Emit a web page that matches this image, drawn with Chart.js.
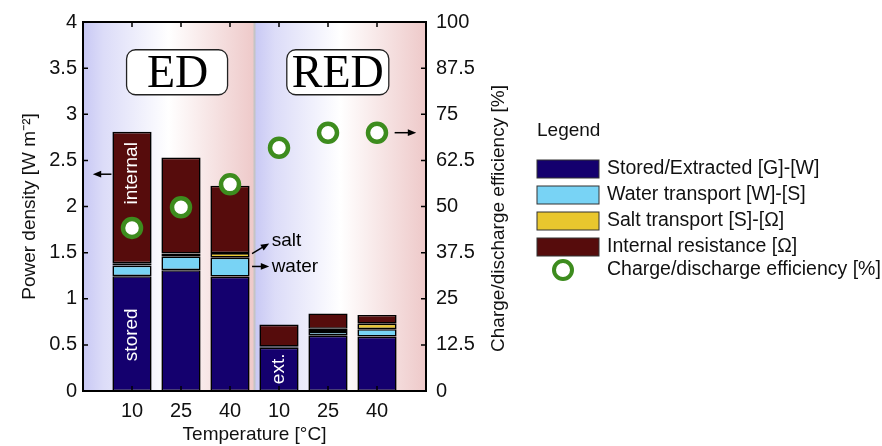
<!DOCTYPE html>
<html>
<head>
<meta charset="utf-8">
<script src="https://cdn.jsdelivr.net/npm/chart.js@4.4.1/dist/chart.umd.min.js"></script>
<style>
  html, body { margin: 0; padding: 0; background: #fff; }
  #wrap { width: 882px; height: 446px; }
</style>
</head>
<body>
<div id="wrap"><canvas id="chart" width="882" height="446"></canvas></div>
<script>
// Values (power density in W m-2, efficiency in %)
const temperatures = ["10", "25", "40", "10", "25", "40"];
const stored = [1.245, 1.31, 1.24, 0.47, 0.60, 0.59];
const water = [0.115, 0.15, 0.205, 0.006, 0.04, 0.08];
const salt = [0.024, 0.03, 0.05, 0.004, 0.035, 0.06];
const internal = [1.426, 1.04, 0.73, 0.24, 0.165, 0.095];
const efficiency = [44.2, 49.8, 56, 65.9, 70, 70];
const leftTicks = [0, 0.5, 1, 1.5, 2, 2.5, 3, 3.5, 4];
const rightTicks = [0, 12.5, 25, 37.5, 50, 62.5, 75, 87.5, 100];

const FONT = "'Liberation Sans', Arial, sans-serif";
const SERIF = "'Liberation Serif', 'Times New Roman', serif";
const TEXT = "#111";

const COLORS = {
    stored: "#14006e",
    water: "#78d3f5",
    salt: "#e9c72e",
    internal: "#560c0c",
    eff: "#3d8c1e",
};

// one empty slot on each side of the six bars
const labels = ["", ...temperatures, ""];
const pad = (arr) => [null, ...arr, null];

function barSet(label, data, color) {
    return {
        type: "bar",
        label,
        data: pad(data),
        backgroundColor: color,
        borderColor: "#000",
        borderWidth: 1.6,
        borderSkipped: false,
        stack: "power",
        yAxisID: "y",
        categoryPercentage: 1,
        barPercentage: 0.8,
        order: 2,
    };
}

function text(ctx, str, x, y, font, color, align, base) {
    ctx.font = font;
    ctx.fillStyle = color || TEXT;
    ctx.textAlign = align || "left";
    ctx.textBaseline = base || "middle";
    ctx.fillText(str, x, y);
}

function arrow(ctx, x1, y1, x2, y2) {
    const a = Math.atan2(y2 - y1, x2 - x1);
    ctx.save();
    ctx.strokeStyle = "#000";
    ctx.fillStyle = "#000";
    ctx.lineWidth = 1.5;
    ctx.beginPath();
    ctx.moveTo(x1, y1);
    ctx.lineTo(x2 - 5 * Math.cos(a), y2 - 5 * Math.sin(a));
    ctx.stroke();
    ctx.beginPath();
    ctx.moveTo(x2, y2);
    ctx.lineTo(x2 - 9 * Math.cos(a - 0.38), y2 - 9 * Math.sin(a - 0.38));
    ctx.lineTo(x2 - 9 * Math.cos(a + 0.38), y2 - 9 * Math.sin(a + 0.38));
    ctx.closePath();
    ctx.fill();
    ctx.restore();
}

function roundBox(ctx, x, y, w, h, r) {
    ctx.beginPath();
    ctx.roundRect(x, y, w, h, r);
    ctx.fillStyle = "#fff";
    ctx.fill();
    ctx.strokeStyle = "#222";
    ctx.lineWidth = 1.3;
    ctx.stroke();
}

const decorPlugin = {
    id: "decor",
    beforeDatasetsDraw(chart) {
        const { ctx, chartArea: a, scales } = chart;
        const mid = scales.x.getPixelForValue(3.5);
        ctx.save();
        [[a.left, mid], [mid, a.right]].forEach(([l, r]) => {
            const g = ctx.createLinearGradient(l, 0, r, 0);
            g.addColorStop(0, "#c8c8f4");
            g.addColorStop(0.12, "#dcdcf8");
            g.addColorStop(0.5, "#ffffff");
            g.addColorStop(1, "#eec9c9");
            ctx.fillStyle = g;
            ctx.fillRect(l, a.top, r - l, a.bottom - a.top);
        });
        ctx.strokeStyle = "#c4c4c4";
        ctx.lineWidth = 2;
        ctx.beginPath();
        ctx.moveTo(mid, a.top);
        ctx.lineTo(mid, a.bottom);
        ctx.stroke();

        // ED / RED labels
        const y = scales.y.getPixelForValue(3.45);
        const edX = scales.x.getPixelForValue(1.93);
        const redX = scales.x.getPixelForValue(5.2);
        roundBox(ctx, edX - 51, y - 23, 101, 45, 9);
        roundBox(ctx, redX - 51, y - 23, 102, 45, 9);
        text(ctx, "ED", edX, y + 2, "46px " + SERIF, "#000", "center");
        text(ctx, "RED", redX, y + 2, "46px " + SERIF, "#000", "center");
        ctx.restore();
    },
    afterDatasetsDraw(chart) {
        const { ctx, chartArea: a, scales } = chart;
        const x = scales.x, y = scales.y, y2 = scales.y2;
        ctx.save();

        // white rotated labels inside bars
        const vtext = (str, cx, cy) => {
            ctx.save();
            ctx.translate(cx, cy);
            ctx.rotate(-Math.PI / 2);
            text(ctx, str, 0, 0, "19px " + FONT, "#fff", "center");
            ctx.restore();
        };
        vtext("internal", x.getPixelForValue(1), y.getPixelForValue(2.36));
        vtext("stored", x.getPixelForValue(1), y.getPixelForValue(0.61));
        vtext("ext.", x.getPixelForValue(4), y.getPixelForValue(0.24));

        // axis arrows and callouts
        const ay = y.getPixelForValue(2.35);
        arrow(ctx, x.getPixelForValue(0.58), ay, x.getPixelForValue(0.2), ay);
        const by = y2.getPixelForValue(70);
        arrow(ctx, x.getPixelForValue(6.36), by, x.getPixelForValue(6.8), by);
        const sx = x.getPixelForValue(3.45);
        arrow(ctx, sx, y.getPixelForValue(1.49), x.getPixelForValue(3.8), y.getPixelForValue(1.6));
        arrow(ctx, sx, y.getPixelForValue(1.35), x.getPixelForValue(3.8), y.getPixelForValue(1.35));
        text(ctx, "salt", x.getPixelForValue(3.85), y.getPixelForValue(1.63), "19px " + FONT, "#000");
        text(ctx, "water", x.getPixelForValue(3.85), y.getPixelForValue(1.35), "19px " + FONT, "#000");

        // frame and inward ticks
        ctx.strokeStyle = "#000";
        ctx.lineWidth = 2;
        ctx.strokeRect(a.left, a.top, a.right - a.left, a.bottom - a.top);
        ctx.lineWidth = 1.5;
        ctx.beginPath();
        leftTicks.forEach((v) => {
            const p = y.getPixelForValue(v);
            ctx.moveTo(a.left, p); ctx.lineTo(a.left + 5, p);
        });
        rightTicks.forEach((v) => {
            const p = y2.getPixelForValue(v);
            ctx.moveTo(a.right, p); ctx.lineTo(a.right - 5, p);
        });
        temperatures.forEach((t, i) => {
            const p = x.getPixelForValue(i + 1);
            ctx.moveTo(p, a.top); ctx.lineTo(p, a.top + 5);
            ctx.moveTo(p, a.bottom); ctx.lineTo(p, a.bottom - 5);
        });
        ctx.stroke();

        // right axis title (reads bottom to top)
        ctx.save();
        ctx.translate(a.right + 73, (a.top + a.bottom) / 2 + 12);
        ctx.rotate(-Math.PI / 2);
        text(ctx, "Charge/discharge efficiency [%]", 0, 0, "19px " + FONT, TEXT, "center");
        ctx.restore();

        // legend
        const lx = 537, ly = 131;
        text(ctx, "Legend", lx, ly, "19px " + FONT, TEXT);
        chart.data.datasets.forEach((ds, i) => {
            const cy = ly + 38 + i * 26;
            if (ds.type === "bar") {
                ctx.fillStyle = ds.backgroundColor;
                ctx.fillRect(lx, cy - 9, 62, 18);
                ctx.strokeStyle = "#333";
                ctx.lineWidth = 1;
                ctx.strokeRect(lx, cy - 9, 62, 18);
            } else {
                ctx.beginPath();
                ctx.arc(lx + 26, cy - 3, 9, 0, Math.PI * 2);
                ctx.fillStyle = "#fff";
                ctx.fill();
                ctx.strokeStyle = ds.borderColor;
                ctx.lineWidth = 4;
                ctx.stroke();
            }
            text(ctx, ds.label, lx + 70, ds.type === "bar" ? cy : cy - 3, "19.5px " + FONT, TEXT);
        });
        ctx.restore();
    },
};

new Chart(document.getElementById("chart"), {
    data: {
        labels,
        datasets: [
            barSet("Stored/Extracted [G]-[W]", stored, COLORS.stored),
            barSet("Water transport [W]-[S]", water, COLORS.water),
            barSet("Salt transport [S]-[Ω]", salt, COLORS.salt),
            barSet("Internal resistance [Ω]", internal, COLORS.internal),
            {
                type: "line",
                label: "Charge/discharge efficiency [%]",
                data: pad(efficiency),
                yAxisID: "y2",
                showLine: false,
                pointStyle: "circle",
                pointRadius: 9,
                pointBorderWidth: 4.5,
                borderColor: COLORS.eff,
                backgroundColor: "#fff",
                order: 1,
            },
        ],
    },
    options: {
        responsive: false,
        animation: false,
        events: [],
        layout: { padding: { left: 14, top: 19, right: 366, bottom: 0 } },
        plugins: { legend: { display: false }, tooltip: { enabled: false } },
        scales: {
            x: {
                type: "category",
                offset: false,
                stacked: true,
                grid: { display: false, drawTicks: false },
                border: { display: false },
                ticks: { color: TEXT, font: { family: FONT, size: 20 }, padding: 8, autoSkip: false, maxRotation: 0 },
                title: { display: true, text: "Temperature [°C]", color: TEXT, font: { family: FONT, size: 19 }, padding: { top: 0, bottom: 0 } },
                afterFit: (s) => { s.height = 55; },
            },
            y: {
                position: "left",
                stacked: true,
                min: 0,
                max: 4,
                afterBuildTicks: (s) => { s.ticks = leftTicks.map((v) => ({ value: v })); },
                grid: { display: false, drawTicks: false },
                border: { display: false },
                ticks: { color: TEXT, font: { family: FONT, size: 20 }, padding: 6, callback: (v) => String(v) },
                title: { display: true, text: "Power density [W m⁻²]", color: TEXT, font: { family: FONT, size: 19 }, padding: { top: 4, bottom: 0 } },
                afterFit: (s) => { s.width = 69; },
            },
            y2: {
                position: "right",
                min: 0,
                max: 100,
                afterBuildTicks: (s) => { s.ticks = rightTicks.map((v) => ({ value: v })); },
                grid: { display: false, drawTicks: false },
                border: { display: false },
                ticks: { color: TEXT, font: { family: FONT, size: 20 }, padding: 10, callback: (v) => String(v) },
                afterFit: (s) => { s.width = 90; },
            },
        },
    },
    plugins: [decorPlugin],
});
</script>
</body>
</html>
